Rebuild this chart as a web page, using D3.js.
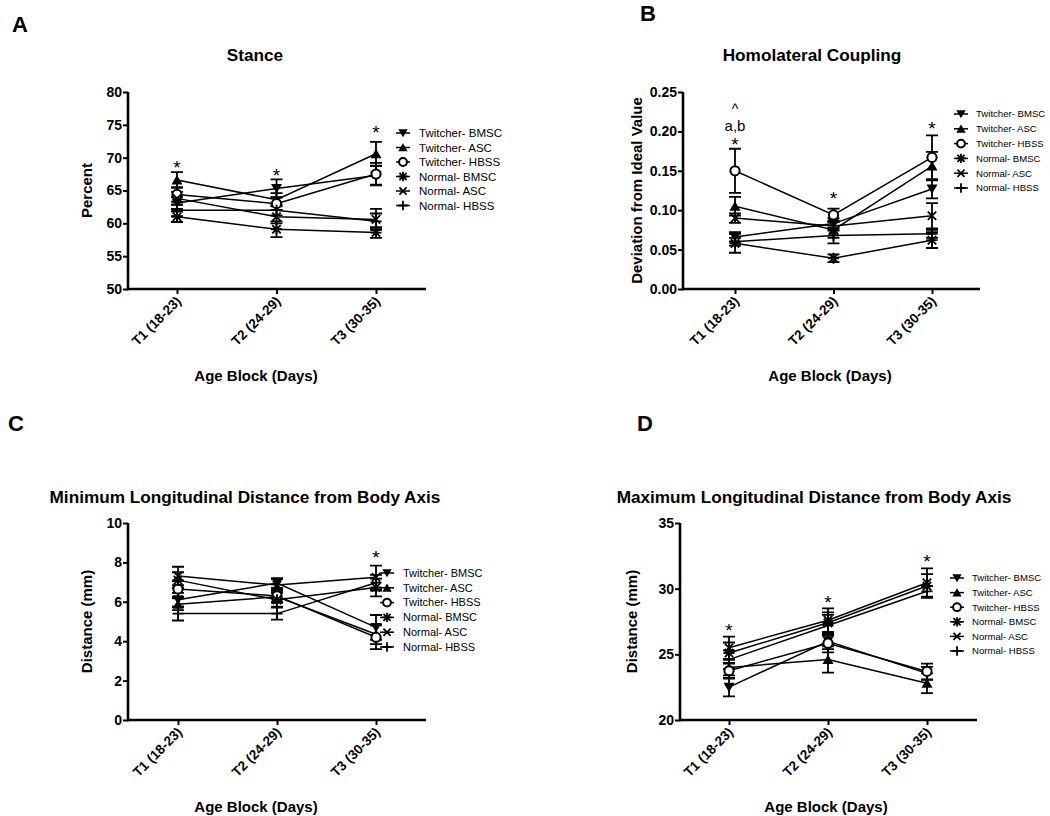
<!DOCTYPE html>
<html><head><meta charset="utf-8">
<script src="https://cdn.jsdelivr.net/npm/d3@7"></script>
<style>
body{margin:0;background:#fff}
text{font-family:"Liberation Sans",Arial,Helvetica,sans-serif;fill:#000}
</style>
</head><body>
<svg id="chart" width="1050" height="816"></svg>
<script>
// ---------- DATA ----------
const categories = ["T1 (18-23)", "T2 (24-29)", "T3 (30-35)"];
const seriesNames = ["Twitcher- BMSC", "Twitcher- ASC", "Twitcher- HBSS", "Normal- BMSC", "Normal- ASC", "Normal- HBSS"];
const seriesMarkers = ["tdown", "tup", "circle", "ast", "times", "plus"];

// Panel A: Stance (Percent)
const stanceMean = [[63.1, 65.3, 67.3], [66.6, 63.6, 70.6], [64.4, 63.0, 67.5], [61.0, 59.1, 58.6], [63.8, 61.0, 60.6], [62.0, 62.0, 60.3]];
const stanceErr  = [[0.9, 1.4, 1.4], [1.2, 1.0, 1.8], [1.1, 1.0, 1.7], [0.8, 1.2, 0.8], [1.0, 1.0, 1.6], [0.9, 0.8, 1.2]];
const stanceTicks = [50, 55, 60, 65, 70, 75, 80];
const stanceNotes = [{cat: 0, text: "*", v: 69.3}, {cat: 1, text: "*", v: 68.1}, {cat: 2, text: "*", v: 74.6}];

// Panel B: Homolateral Coupling (Deviation from Ideal Value)
const couplingMean = [[0.066, 0.083, 0.127], [0.105, 0.075, 0.156], [0.150, 0.094, 0.167], [0.058, 0.039, 0.062], [0.090, 0.080, 0.093], [0.060, 0.068, 0.070]];
const couplingErr  = [[0.006, 0.007, 0.012], [0.012, 0.010, 0.018], [0.028, 0.008, 0.028], [0.012, 0.005, 0.010], [0.006, 0.006, 0.016], [0.005, 0.010, 0.005]];
const couplingTicks = [0.00, 0.05, 0.10, 0.15, 0.20, 0.25];
const couplingNotes = [{cat: 0, text: "*", v: 0.190}, {cat: 0, text: "a,b", v: 0.206}, {cat: 0, text: "^", v: 0.232}, {cat: 1, text: "*", v: 0.1206}, {cat: 2, text: "*", v: 0.210}];

// Panel C: Minimum Longitudinal Distance from Body Axis (mm)
const minDistMean = [[6.1, 6.95, 4.7], [5.88, 6.25, 4.35], [6.65, 6.3, 4.2], [7.1, 6.1, 6.73], [7.31, 6.85, 7.24], [5.4, 5.4, 6.97]];
const minDistErr  = [[0.35, 0.25, 0.63], [0.3, 0.3, 0.5], [0.4, 0.3, 0.6], [0.4, 0.35, 0.45], [0.47, 0.3, 0.6], [0.35, 0.3, 0.4]];
const minDistTicks = [0, 2, 4, 6, 8, 10];
const minDistNotes = [{cat: 2, text: "*", v: 8.48}];

// Panel D: Maximum Longitudinal Distance from Body Axis (mm)
const maxDistMean = [[22.5, 26.0, 23.55], [24.0, 24.6, 22.8], [23.75, 25.85, 23.7], [25.1, 27.4, 30.2], [25.5, 27.6, 30.45], [24.6, 27.2, 29.8]];
const maxDistErr  = [[0.7, 0.6, 0.5], [0.6, 1.0, 0.75], [0.6, 0.7, 0.6], [0.8, 0.8, 0.9], [0.85, 0.9, 1.1], [0.7, 0.8, 0.4]];
const maxDistTicks = [20, 25, 30, 35];
const maxDistNotes = [{cat: 0, text: "*", v: 27.16}, {cat: 1, text: "*", v: 29.33}, {cat: 2, text: "*", v: 32.41}];

// ---------- LAYOUT ----------
const panels = [
  {letter: "A", lx: 12, ly: 32, title: "Stance", tx: 255, ty: 61, ylabel: "Percent", ylx: 92,
   mean: stanceMean, err: stanceErr, ticks: stanceTicks, fmt: d3.format("d"), notes: stanceNotes,
   ax: 128, top: 92, bottom: 289, x0: 177, x1: 376, xEnd: 426, xtx: 256, xty: 381,
   legX: 403, legY: 133, legStep: 14.5, legFs: 11.5, legGap: 16},
  {letter: "B", lx: 640, ly: 21, title: "Homolateral Coupling", tx: 812, ty: 61, ylabel: "Deviation from Ideal Value", ylx: 642,
   mean: couplingMean, err: couplingErr, ticks: couplingTicks, fmt: d3.format(".2f"), notes: couplingNotes,
   ax: 683, top: 92, bottom: 289, x0: 735, x1: 932, xEnd: 980, xtx: 830, xty: 381,
   legX: 961, legY: 114, legStep: 14.8, legFs: 9.6, legGap: 15},
  {letter: "C", lx: 8, ly: 431, title: "Minimum Longitudinal Distance from Body Axis", tx: 245, ty: 503, ylabel: "Distance (mm)", ylx: 92,
   mean: minDistMean, err: minDistErr, ticks: minDistTicks, fmt: d3.format("d"), notes: minDistNotes,
   ax: 128, top: 523, bottom: 720, x0: 178, x1: 376, xEnd: 426, xtx: 256, xty: 812,
   legX: 387, legY: 573, legStep: 14.8, legFs: 11, legGap: 16},
  {letter: "D", lx: 637, ly: 431, title: "Maximum Longitudinal Distance from Body Axis", tx: 814, ty: 503, ylabel: "Distance (mm)", ylx: 637,
   mean: maxDistMean, err: maxDistErr, ticks: maxDistTicks, fmt: d3.format("d"), notes: maxDistNotes,
   ax: 680, top: 523, bottom: 720, x0: 729, x1: 927, xEnd: 977, xtx: 826, xty: 812,
   legX: 957, legY: 578, legStep: 14.6, legFs: 9.6, legGap: 15}
];

const svg = d3.select("#chart");

function marker(g, type, x, y, s) {
  const k = s || 1;
  if (type === "tdown") {
    g.append("path").attr("d", `M${x-5.5*k},${y-4.5*k}L${x+5.5*k},${y-4.5*k}L${x},${y+5*k}Z`).attr("fill", "#000");
  } else if (type === "tup") {
    g.append("path").attr("d", `M${x-5.5*k},${y+4.5*k}L${x+5.5*k},${y+4.5*k}L${x},${y-5*k}Z`).attr("fill", "#000");
  } else if (type === "circle") {
    g.append("circle").attr("cx", x).attr("cy", y).attr("r", 4.6*k).attr("fill", "#fff").attr("stroke", "#000").attr("stroke-width", 2);
  } else {
    let segs = [];
    const a = 5.5*k, d = 4.2*k;
    if (type === "ast") segs = [[-a,0,a,0],[0,-a,0,a],[-d,-d,d,d],[-d,d,d,-d]];
    if (type === "times") segs = [[-d,-d,d,d],[-d,d,d,-d]];
    if (type === "plus") segs = [[-a,0,a,0],[0,-a,0,a]];
    g.append("path").attr("d", segs.map(s2 => `M${x+s2[0]},${y+s2[1]}L${x+s2[2]},${y+s2[3]}`).join(""))
      .attr("stroke", "#000").attr("stroke-width", 1.8).attr("fill", "none");
  }
}

panels.forEach(p => {
  const g = svg.append("g");
  const x = d3.scalePoint().domain(categories).range([p.x0, p.x1]);
  const y = d3.scaleLinear().domain([p.ticks[0], p.ticks[p.ticks.length - 1]]).range([p.bottom, p.top]);

  // panel letter & title
  g.append("text").attr("x", p.lx).attr("y", p.ly).attr("font-size", 22).attr("font-weight", "bold").text(p.letter);
  g.append("text").attr("x", p.tx).attr("y", p.ty).attr("text-anchor", "middle").attr("font-size", 17.2).attr("font-weight", "bold").text(p.title);

  // y axis
  const yAxis = g.append("g").attr("transform", `translate(${p.ax},0)`)
    .call(d3.axisLeft(y).tickValues(p.ticks).tickFormat(p.fmt).tickSize(5).tickSizeOuter(0).tickPadding(1));
  yAxis.select(".domain").attr("stroke-width", 2.6).attr("d", `M0,${p.bottom+1.3}V${p.top}`);
  yAxis.selectAll(".tick line").attr("stroke-width", 2);
  yAxis.selectAll(".tick text").attr("font-size", 14).attr("font-weight", "bold").attr("fill", "#000")
    .attr("font-family", '"Liberation Sans",Arial,sans-serif');

  // x axis
  const xAxis = g.append("g").attr("transform", `translate(0,${p.bottom})`)
    .call(d3.axisBottom(x).tickSize(5).tickSizeOuter(0).tickFormat(""));
  xAxis.select(".domain").attr("stroke-width", 2.6).attr("d", `M${p.ax},0H${p.xEnd}`);
  xAxis.selectAll(".tick line").attr("stroke-width", 2);
  categories.forEach(c => {
    g.append("text").attr("transform", `translate(${x(c) + 5},${p.bottom + 13}) rotate(-45)`)
      .attr("text-anchor", "end").attr("font-size", 13.5).attr("font-weight", "bold").text(c);
  });

  // axis titles
  g.append("text").attr("x", p.xtx).attr("y", p.xty).attr("text-anchor", "middle").attr("font-size", 15).attr("font-weight", "bold").text("Age Block (Days)");
  g.append("text").attr("transform", `translate(${p.ylx},${(p.top + p.bottom) / 2}) rotate(-90)`)
    .attr("text-anchor", "middle").attr("font-size", 15).attr("font-weight", "bold").text(p.ylabel);

  // series lines
  const line = d3.line().x((d, i) => x(categories[i])).y(d => y(d));
  p.mean.forEach(vals => {
    g.append("path").attr("d", line(vals)).attr("fill", "none").attr("stroke", "#000").attr("stroke-width", 1.5);
  });
  // error bars
  p.mean.forEach((vals, si) => {
    vals.forEach((v, i) => {
      const cx = x(categories[i]), e = p.err[si][i];
      const y1 = y(v + e), y2 = y(v - e);
      g.append("path").attr("d", `M${cx},${y1}V${y2}M${cx-6},${y1}H${cx+6}M${cx-6},${y2}H${cx+6}`)
        .attr("stroke", "#000").attr("stroke-width", 1.8).attr("fill", "none");
    });
  });
  // markers
  p.mean.forEach((vals, si) => {
    vals.forEach((v, i) => marker(g, seriesMarkers[si], x(categories[i]), y(v), 1));
  });

  // annotations
  p.notes.forEach(n => {
    const fs = n.text === "*" ? 19 : (n.text === "^" ? 14 : 15);
    const off = n.text === "*" ? 0.6 * fs : (n.text === "^" ? 0.55 * fs : 0.3 * fs);
    g.append("text").attr("x", x(categories[n.cat])).attr("y", y(n.v) + off)
      .attr("text-anchor", "middle").attr("font-size", fs).text(n.text);
  });

  // legend
  seriesNames.forEach((name, si) => {
    const ly = p.legY + si * p.legStep;
    g.append("line").attr("x1", p.legX - 7).attr("x2", p.legX + 7).attr("y1", ly).attr("y2", ly)
      .attr("stroke", "#000").attr("stroke-width", 1.5);
    marker(g, seriesMarkers[si], p.legX, ly, 0.85);
    g.append("text").attr("x", p.legX + p.legGap).attr("y", ly + 0.35 * p.legFs).attr("font-size", p.legFs).text(name);
  });
});
</script>
</body></html>
